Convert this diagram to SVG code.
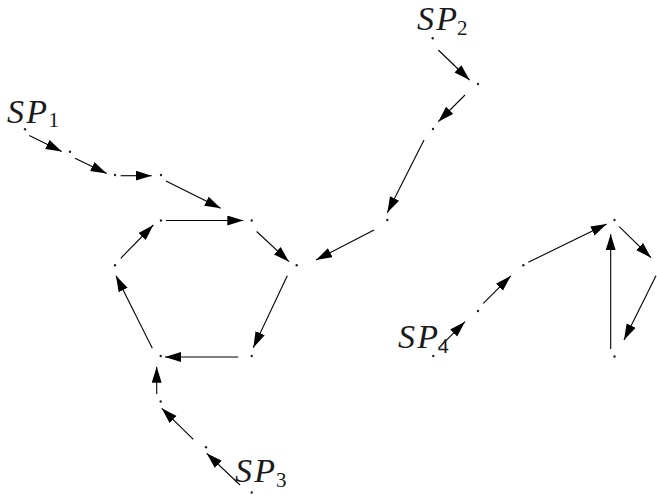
<svg xmlns="http://www.w3.org/2000/svg" width="657" height="495" viewBox="0 0 657 495">
<style>
.e{stroke:#000;stroke-width:1.1;fill:none;marker-end:url(#ah)}
.d{fill:#222}
.t{font-family:"Liberation Serif",serif;fill:#1a1a1a}
.sp{font-style:italic;font-size:34px}
.sb{font-size:21px}
</style>
<defs>
<marker id="ah" markerUnits="userSpaceOnUse" markerWidth="17" markerHeight="11" refX="16" refY="5" orient="auto">
<path d="M0,0 L16,5 L0,10 z" fill="#000"/>
</marker>
</defs>
<rect width="657" height="495" fill="#fff"/>
<g id="connectors">
<line class="e" x1="29.3" y1="135.5" x2="61.7" y2="151.5"/>
<line class="e" x1="75" y1="158.3" x2="106.7" y2="173.5"/>
<line class="e" x1="120.7" y1="175.7" x2="151.7" y2="175.7"/>
<line class="e" x1="166" y1="181" x2="220.7" y2="208.3"/>
<line class="e" x1="166" y1="220.5" x2="243.3" y2="220.5"/>
<line class="e" x1="256.7" y1="231.5" x2="289" y2="261.7"/>
<line class="e" x1="287.3" y1="275.7" x2="253.3" y2="347.7"/>
<line class="e" x1="238.3" y1="357" x2="165" y2="357"/>
<line class="e" x1="152.3" y1="348.3" x2="116" y2="275.7"/>
<line class="e" x1="120.7" y1="258.3" x2="153.3" y2="225"/>
<line class="e" x1="156.7" y1="394" x2="156.7" y2="366.7"/>
<line class="e" x1="193.3" y1="439.3" x2="161.7" y2="408.3"/>
<line class="e" x1="240" y1="485" x2="206.7" y2="453.3"/>
<line class="e" x1="438.3" y1="50" x2="469.5" y2="80"/>
<line class="e" x1="465" y1="95" x2="438.3" y2="121.7"/>
<line class="e" x1="424" y1="140" x2="387.3" y2="212.7"/>
<line class="e" x1="374" y1="230" x2="316" y2="260"/>
<line class="e" x1="438.3" y1="348.3" x2="465" y2="321.7"/>
<line class="e" x1="483.3" y1="303.3" x2="510.7" y2="276"/>
<line class="e" x1="528.3" y1="262.3" x2="606.7" y2="224"/>
<line class="e" x1="619.3" y1="226.7" x2="651" y2="257.7"/>
<line class="e" x1="656" y1="275.7" x2="624" y2="340"/>
<line class="e" x1="610.7" y1="349" x2="610.7" y2="234.3"/>
</g>
<g id="sp1"><circle class="d" cx="25" cy="129.3" r="1.2"/><text class="t" x="7" y="123"><tspan class="sp" textLength="40" lengthAdjust="spacing">SP</tspan><tspan class="sb" x="48.5" y="127">1</tspan></text></g>
<g id="n1"><circle class="d" cx="70" cy="151.7" r="1.2"/></g>
<g id="n2"><circle class="d" cx="115" cy="175" r="1.2"/></g>
<g id="n3"><circle class="d" cx="161" cy="175" r="1.2"/></g>
<g id="h1"><circle class="d" cx="161" cy="220.5" r="1.2"/></g>
<g id="h2"><circle class="d" cx="251.7" cy="220.5" r="1.2"/></g>
<g id="h3"><circle class="d" cx="296.7" cy="265.3" r="1.2"/></g>
<g id="h4"><circle class="d" cx="251.7" cy="356" r="1.2"/></g>
<g id="h5"><circle class="d" cx="160.7" cy="356" r="1.2"/></g>
<g id="h6"><circle class="d" cx="115" cy="265.3" r="1.2"/></g>
<g id="n4"><circle class="d" cx="160.7" cy="401.5" r="1.2"/></g>
<g id="n5"><circle class="d" cx="206" cy="447.3" r="1.2"/></g>
<g id="sp3"><circle class="d" cx="251.7" cy="492.5" r="1.2"/><text class="t" x="235" y="482"><tspan class="sp" textLength="40" lengthAdjust="spacing">SP</tspan><tspan class="sb" x="276" y="487">3</tspan></text></g>
<g id="sp2"><circle class="d" cx="432.7" cy="38.3" r="1.2"/><text class="t" x="417" y="30"><tspan class="sp" textLength="40" lengthAdjust="spacing">SP</tspan><tspan class="sb" x="457" y="35">2</tspan></text></g>
<g id="n6"><circle class="d" cx="478" cy="84" r="1.2"/></g>
<g id="n7"><circle class="d" cx="433" cy="129" r="1.2"/></g>
<g id="n8"><circle class="d" cx="387.3" cy="220" r="1.2"/></g>
<g id="sp4"><circle class="d" cx="433.3" cy="356" r="1.2"/><text class="t" x="398" y="348"><tspan class="sp" textLength="40" lengthAdjust="spacing">SP</tspan><tspan class="sb" x="438" y="353">4</tspan></text></g>
<g id="n9"><circle class="d" cx="478" cy="311" r="1.2"/></g>
<g id="n10"><circle class="d" cx="523.3" cy="265.3" r="1.2"/></g>
<g id="n11"><circle class="d" cx="614.5" cy="220" r="1.2"/></g>
<g id="n12"><circle class="d" cx="614.5" cy="356.5" r="1.2"/></g>
</svg>
